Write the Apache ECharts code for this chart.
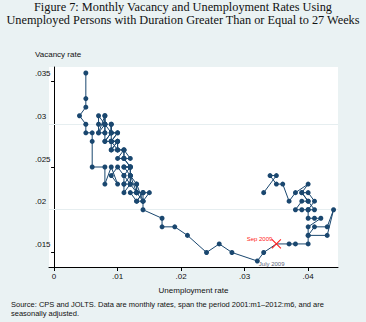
<!DOCTYPE html>
<html>
<head>
<meta charset="utf-8">
<script src="https://cdn.jsdelivr.net/npm/echarts@6/dist/echarts.min.js"></script>
<style>
  html, body { margin: 0; padding: 0; background: #eaf2f3; }
  #chart { width: 366px; height: 322px; }
</style>
</head>
<body>
<div id="chart"></div>
<script>
// Long-term (27+ weeks) unemployment rate, monthly 2001:m1 - 2012:m6
const unemploymentRate = [
  0.005, 0.005, 0.005, 0.004, 0.005, 0.005, 0.006, 0.006, 0.006, 0.008, 0.008, 0.009, // 2001
  0.010, 0.009, 0.010, 0.011, 0.011, 0.011, 0.012, 0.012, 0.011, 0.012, 0.012, 0.013, // 2002
  0.012, 0.013, 0.014, 0.013, 0.014, 0.015, 0.014, 0.013, 0.014, 0.013, 0.013, 0.012, // 2003
  0.012, 0.011, 0.012, 0.011, 0.012, 0.011, 0.012, 0.011, 0.012, 0.011, 0.011, 0.010, // 2004
  0.011, 0.010, 0.010, 0.009, 0.010, 0.009, 0.010, 0.009, 0.010, 0.009, 0.009, 0.009, // 2005
  0.008, 0.008, 0.008, 0.007, 0.007, 0.007, 0.008, 0.008, 0.007, 0.008, 0.008, 0.008, // 2006
  0.008, 0.009, 0.009, 0.009, 0.008, 0.009, 0.010, 0.009, 0.009, 0.010, 0.009, 0.009, // 2007
  0.010, 0.010, 0.011, 0.011, 0.012, 0.012, 0.013, 0.013, 0.014, 0.014, 0.014, 0.017, // 2008
  0.017, 0.019, 0.021, 0.024, 0.026, 0.028, 0.032, 0.033, 0.035, 0.037, 0.038, 0.040, // 2009
  0.040, 0.041, 0.043, 0.044, 0.043, 0.040, 0.040, 0.042, 0.041, 0.040, 0.040, 0.039, // 2010
  0.038, 0.039, 0.040, 0.041, 0.040, 0.041, 0.040, 0.039, 0.040, 0.039, 0.040, 0.038, // 2011
  0.037, 0.036, 0.035, 0.034, 0.035, 0.033                                            // 2012
];

// Job vacancy rate, same months
const vacancyRate = [
  0.036, 0.033, 0.032, 0.031, 0.030, 0.029, 0.029, 0.028, 0.025, 0.025, 0.023, 0.025, // 2001
  0.023, 0.024, 0.025, 0.024, 0.023, 0.022, 0.023, 0.024, 0.025, 0.025, 0.024, 0.022, // 2002
  0.022, 0.021, 0.022, 0.022, 0.021, 0.022, 0.022, 0.021, 0.021, 0.023, 0.022, 0.023, // 2003
  0.024, 0.023, 0.023, 0.024, 0.025, 0.025, 0.025, 0.026, 0.026, 0.027, 0.026, 0.026, // 2004
  0.027, 0.027, 0.028, 0.028, 0.028, 0.027, 0.027, 0.028, 0.029, 0.029, 0.030, 0.029, // 2005
  0.030, 0.031, 0.030, 0.031, 0.030, 0.029, 0.029, 0.030, 0.029, 0.031, 0.030, 0.029, // 2006
  0.028, 0.029, 0.030, 0.028, 0.028, 0.029, 0.029, 0.028, 0.027, 0.028, 0.028, 0.028, // 2007
  0.028, 0.027, 0.027, 0.026, 0.025, 0.024, 0.023, 0.022, 0.022, 0.021, 0.020, 0.019, // 2008
  0.018, 0.018, 0.017, 0.015, 0.016, 0.015, 0.014, 0.015, 0.016, 0.016, 0.016, 0.016, // 2009
  0.017, 0.018, 0.018, 0.020, 0.017, 0.017, 0.018, 0.019, 0.019, 0.019, 0.020, 0.020, // 2010
  0.020, 0.021, 0.021, 0.020, 0.020, 0.021, 0.022, 0.022, 0.021, 0.022, 0.023, 0.022, // 2011
  0.021, 0.023, 0.023, 0.024, 0.024, 0.022                                            // 2012
];

const firstYear = 2001;
const xTicks = [0, 0.01, 0.02, 0.03, 0.04];
const yTicks = [0.015, 0.02, 0.025, 0.03, 0.035];

// Highlighted months: [year, month, text]
const julyMark = [2009, 7, 'July 2009'];
const sepMark = [2009, 9, 'Sep 2009'];

const titleText = 'Figure 7: Monthly Vacancy and Unemployment Rates Using\nUnemployed Persons with Duration Greater Than or Equal to 27 Weeks';
const sourceText = 'Source: CPS and JOLTS. Data are monthly rates, span the period 2001:m1\u20132012:m6, and are\nseasonally adjusted.';

const navy = '#1a476f';
const sansFont = '"Liberation Sans", Arial, sans-serif';

function monthIndex(m) { return (m[0] - firstYear) * 12 + (m[1] - 1); }
function tickText(v) { return v === 0 ? '0' : String(v).replace(/^0\./, '.'); }

const julyIdx = monthIndex(julyMark);
const sepIdx = monthIndex(sepMark);

const points = unemploymentRate.map(function (u, i) {
  const item = { value: [u, vacancyRate[i]] };
  if (i === julyIdx) {
    item.label = {
      show: true, formatter: julyMark[2], position: 'right', offset: [-6, 3],
      color: '#5b6478', fontSize: 6, fontFamily: sansFont
    };
  }
  if (i === sepIdx) {
    item.symbol = 'path://M0,0L10,10M10,0L0,10';
    item.symbolSize = 9;
    item.itemStyle = { color: 'none', borderColor: '#ff2020', borderWidth: 1.1 };
    item.label = {
      show: true, formatter: sepMark[2], position: 'left', offset: [8, -5],
      color: '#ff2020', fontSize: 6, fontFamily: sansFont
    };
  }
  return item;
});

const chart = echarts.init(document.getElementById('chart'), null, { renderer: 'svg' });

chart.setOption({
  animation: false,
  backgroundColor: '#eaf2f3',
  graphic: [
    {
      type: 'rect', z: -10, silent: true,
      shape: { x: 49, y: 67, width: 289, height: 200 },
      style: { fill: '#ffffff' }
    },
    {
      type: 'text', left: 'center', top: 1,
      style: {
        text: titleText, font: '12.3px "Liberation Serif", "Times New Roman", serif',
        fill: '#111', textAlign: 'center', lineHeight: 12.5
      }
    },
    {
      type: 'text', left: 35, top: 50,
      style: { text: 'Vacancy rate', font: '8px ' + sansFont, fill: '#111' }
    },
    {
      type: 'text', left: 11, top: 300,
      style: { text: sourceText, font: '7.5px ' + sansFont, fill: '#111', lineHeight: 9 }
    }
  ],
  grid: { left: 49, right: 28, top: 67, bottom: 55, containLabel: false },
  xAxis: {
    type: 'value',
    min: -0.0008, max: 0.0447,
    name: 'Unemployment rate',
    nameLocation: 'middle', nameGap: 19,
    nameTextStyle: { fontSize: 8, fontFamily: sansFont, color: '#111' },
    axisLine: { show: true, lineStyle: { color: '#000', width: 1 } },
    axisTick: { show: true, customValues: xTicks, length: 4, lineStyle: { color: '#000' } },
    axisLabel: {
      customValues: xTicks, formatter: tickText, margin: 5,
      fontSize: 8, fontFamily: sansFont, color: '#111'
    },
    splitLine: { show: false }
  },
  yAxis: {
    type: 'value',
    min: 0.0133, max: 0.0367,
    axisLine: { show: true, lineStyle: { color: '#000', width: 1 } },
    axisTick: { show: true, customValues: yTicks, length: 3, lineStyle: { color: '#000' } },
    axisLabel: {
      customValues: yTicks, formatter: tickText, margin: 14, align: 'left',
      verticalAlign: 'bottom', lineHeight: 16,
      fontSize: 8, fontFamily: sansFont, color: '#111'
    },
    splitLine: { show: false }
  },
  series: [
    {
      // horizontal grid lines at the y tick values
      type: 'line', data: [], z: 1, silent: true,
      markLine: {
        z: 1, silent: true, symbol: 'none', animation: false,
        label: { show: false },
        lineStyle: { color: '#e6eef0', width: 1.2, type: 'solid' },
        data: yTicks.map(function (v) { return { yAxis: v }; })
      }
    },
    {
      type: 'line', z: 5,
      data: points,
      symbol: 'circle', symbolSize: 5,
      showAllSymbol: true,
      lineStyle: { color: navy, width: 1 },
      itemStyle: { color: navy },
      emphasis: { disabled: true }
    }
  ]
});
</script>
</body>
</html>
